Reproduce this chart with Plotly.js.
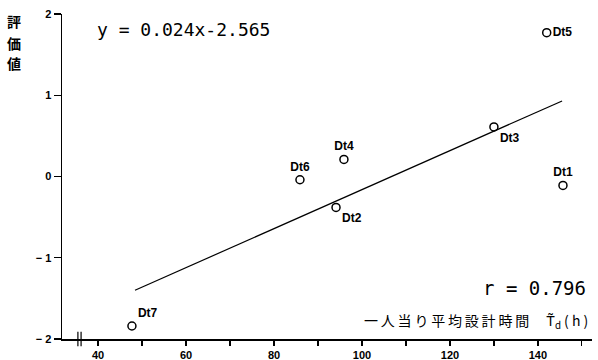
<!DOCTYPE html>
<html>
<head>
<meta charset="utf-8">
<script src="https://cdn.plot.ly/plotly-3.0.1.min.js"></script>
<style>html,body{margin:0;padding:0;background:#fff;}#chart{width:598px;height:360px;}</style>
</head>
<body>
<div id="chart"></div>
<script>
// Data
const labels = ['Dt1', 'Dt2', 'Dt3', 'Dt4', 'Dt5', 'Dt6', 'Dt7'];
const xValues = [145.7, 94.1, 130.0, 95.9, 142.0, 85.9, 47.7];
const yValues = [-0.11, -0.38, 0.61, 0.21, 1.77, -0.04, -1.84];
const labelPositions = ['top center', 'bottom right', 'bottom right', 'top center', 'middle right', 'top center', 'top right'];
// regression line y = 0.024x - 2.565, endpoints as drawn
const lineX = [48.4, 145.5];
const lineY = [-1.40, 0.93];
const xTickVals = [40, 60, 80, 100, 120, 140];
const xTickText = ['40', '60', '80', '100', '120', '140'];
const yTickVals = [-2, -1, 0, 1, 2];
const yTickText = ['\u2212 2', '\u2212 1', '0', '1', '2'];
const equationText = 'y = 0.024x-2.565';
const rText = 'r = 0.796';
const xTitleText = '一\u2009人\u2009当\u2009り\u2009平\u2009均\u2009設\u2009計\u2009時\u2009間\u2003 T\u0303<sub>d</sub> ( h )';
const yTitleChars = ['評', '価', '値'];

const bold = s => '<b>' + s + '</b>';
const tickFont = {family: 'Liberation Sans, Arial, sans-serif', size: 11, color: '#000'};

const traces = [
  {
    type: 'scatter', mode: 'lines', x: lineX, y: lineY,
    line: {color: '#000', width: 1.2}, hoverinfo: 'skip', showlegend: false
  },
  {
    type: 'scatter', mode: 'markers+text', x: xValues, y: yValues,
    text: labels.map(bold), textposition: labelPositions,
    textfont: {family: 'Liberation Sans, Arial, sans-serif', size: 12, color: '#000'},
    marker: {symbol: 'circle-open', size: 8, color: '#000', line: {width: 1.5, color: '#000'}},
    showlegend: false
  }
];

const yTitleY = [0.978, 0.911, 0.849];
const annotations = [
  {xref: 'paper', yref: 'paper', x: 0.062, y: 0.951, xanchor: 'left', yanchor: 'middle', showarrow: false,
   text: equationText, font: {family: 'DejaVu Sans Mono, monospace', size: 18, color: '#000'}},
  {xref: 'paper', yref: 'paper', x: 0.992, y: 0.157, xanchor: 'right', yanchor: 'middle', showarrow: false,
   text: rText, font: {family: 'DejaVu Sans Mono, monospace', size: 19, color: '#000'}},
  {xref: 'paper', yref: 'paper', x: 0.996, y: 0.055, xanchor: 'right', yanchor: 'middle', showarrow: false,
   text: xTitleText, font: {family: 'Noto Sans CJK JP, sans-serif', size: 14, color: '#000'}}
];
yTitleChars.forEach((c, i) => {
  annotations.push({xref: 'paper', yref: 'paper', x: -0.09, y: yTitleY[i], xanchor: 'center', yanchor: 'middle',
    showarrow: false, text: bold(c), font: {family: 'Noto Sans CJK JP, sans-serif', size: 14, color: '#000'}});
});

const layout = {
  width: 598, height: 360,
  margin: {l: 62, r: 6, t: 14, b: 21},
  paper_bgcolor: '#fff', plot_bgcolor: '#fff',
  showlegend: false,
  xaxis: {
    range: [31.8, 152.3], tickvals: xTickVals, ticktext: xTickText.map(bold), ticks: 'outside', ticklen: 5, tickwidth: 1.2, tickcolor: '#000',
    showline: true, linecolor: '#000', linewidth: 1.5, showgrid: false, zeroline: false,
    tickfont: tickFont, minor: {dtick: 10, tick0: 40, ticks: 'outside', ticklen: 5, tickwidth: 1.2, tickcolor: '#000', showgrid: false}
  },
  yaxis: {
    range: [-2, 2], tickvals: yTickVals, ticktext: yTickText.map(bold), ticks: 'outside', ticklen: 7, tickwidth: 1.2, tickcolor: '#000',
    showline: true, linecolor: '#000', linewidth: 1.5, showgrid: false, zeroline: false,
    tickfont: tickFont
  },
  shapes: [
    {type: 'line', xref: 'paper', yref: 'paper', x0: 0.030, x1: 0.030, y0: -0.022, y1: 0.022, line: {color: '#000', width: 1.2}},
    {type: 'line', xref: 'paper', yref: 'paper', x0: 0.036, x1: 0.036, y0: -0.022, y1: 0.022, line: {color: '#000', width: 1.2}}
  ],
  annotations: annotations
};

Plotly.newPlot('chart', traces, layout, {displayModeBar: false, staticPlot: true});
</script>
</body>
</html>
